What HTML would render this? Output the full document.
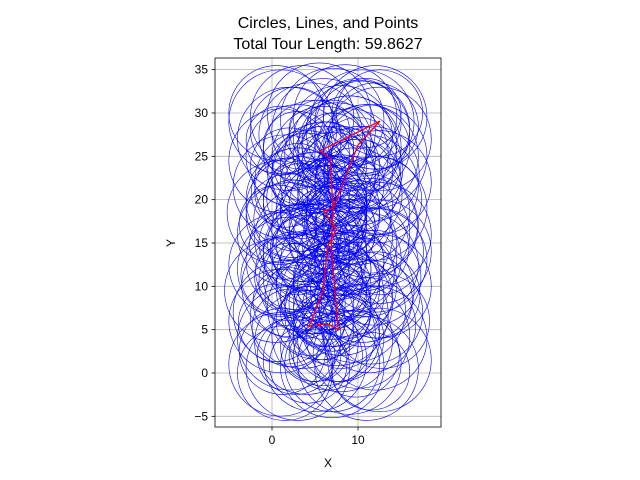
<!DOCTYPE html>
<html><head><meta charset="utf-8"><style>body{margin:0;background:#fff}svg{display:block;font-family:"Liberation Sans","DejaVu Sans",sans-serif}</style></head>
<body>
<svg id="c" width="640" height="480" viewBox="0 0 640 480"></svg>
<script>
const xTicks=[0,10];
const yTicks=[-5,0,5,10,15,20,25,30,35];
const circleX=[1,3,5,7,9,11,12.5,2,4,6,8,10,12,1.5,3.5,5.5,7.5,9.5,11.5,0.5,2.5,4.5,6.5,8.5,10.5,12.5,1,3,5,7,9,11,12,2,4,6,8,10,12.5,0.8,3,5,6.5,8,10,12,1.5,4,6,7,9,11,12.5,1,3,5,6,7.5,9,11,12,2,4.5,6,8,10,12.5,1,3.5,5.5,7,8.5,10.5,12,2,5,6.5,8,11,1,3,6,7,9,12.5,
5,6,7,8,4,9,5.5,6.5,7.5,3,10,6,7,5,8,4.5,6,7,8.5,5,6.5,7.5,3.5,9.5,6,7,5.5,8,4,9,6.5,7,5,8,6,7.5,3,10,5.5,6.5,7,8,4.5,9,6,7,5,8,6.5,7.5,2,11,4,9,6,7,5,8,3,10,6.5,7,
1.2,2.8,4.2,9.8,11.2,12.8,0.6,2.2,10.8,12.2,1.8,3.2,9.2,11.8,0.9,2.6,10.4,12.6,1.4,3.8,8.8,11.4,0.7,2.4,9.6,12.4,1.6,3.4,10.2,11.6,2,4,9,11,1,3,10,12,2.5,10.5,1.5,11.5,3,9,0.5,12.5,2,11,4,8];
const circleY=[1,0.5,1.5,0.8,1.2,0.5,1.5,4,3.5,4.5,3.8,4.2,4,7,6.5,7.5,6.8,7.2,7,9.5,10,10.5,9.8,10.2,9.5,10,12.5,13,13.5,12.8,13.2,12.5,13,16,15.5,16.5,15.8,16.2,16,18.5,19,19.5,18.8,19.2,18.5,19,21.5,22,22.5,21.8,22.2,21.5,22,24.5,25,25.5,24.8,25.2,24.5,25,25,27,27.5,28,27.2,27.8,27,29,29.5,29.8,29.2,29.6,29,29.5,12,14,11,8,17,6,20,23,9,26,14,
3,5,7,9,11,13,15,17,19,21,23,25,27,2,4,6,8,10,12,14,16,18,20,22,24,26,28,5,7,9,11,13,15,17,19,21,23,25,6,8,10,12,14,16,18,20,22,24,26,4,11,13,15,17,19,21,8,18,12,22,
2,1,2.5,2,1,2.2,5.5,6,5.8,5.2,8.5,9,8.2,8.8,11.5,11,11.2,11.8,14.5,14,14.8,14.2,17.5,17,17.2,17.8,20.5,20,20.8,20.2,23.5,23,23.8,23.2,26.5,26,26.8,26.2,29,28.5,28,28.2,0,0.2,15,15,30,30,18,30];
const circleR=[6,6,6,6,6,6,6,6,6,6,6,6,6,6,6,6,6,6,6,6,6,6,6,6,6,6,6,6,6,6,6,6,6,6,6,6,6,6,6,6,6,6,6,6,6,6,6,6,6,6,6,6,6,6,6,6,6,6,6,6,6,6,6,6,6,6,6,6,6,6,6,6,6,6,6,6,6,6,6,6,6,6,6,6,6,
4,3.5,4.5,3,5,4,3.5,4.5,3,5,4,3.5,4.5,3,5,4,3.5,4.5,3,5,4,3.5,4.5,3,5,4,3.5,4.5,3,5,4,3.5,4.5,3,5,4,3.5,4.5,3,5,4,3.5,4.5,3,5,4,3.5,4.5,3,5,4,3.5,4.5,3,5,4,3.5,4.5,3,5,4,
5.5,5,4.5,4.5,5,5.5,5.5,4.5,4.5,5.5,5,4,4,5,5.5,4.5,4.5,5.5,5,4,4,5,5.5,4.5,4.5,5.5,5,4,4,5,5.5,4.5,4.5,5.5,5,4,4,5,5,5,5.5,5.5,4.5,4.5,5.5,5.5,5,5,4,4];
const tourX=[12.56,5.58,6.74,7.1,6.0,7.5,6.5,5.9,4.3,6.4,7.7,6.9,7.1,10.0,12.56];
const tourY=[29.08,25.62,24.8,19.0,18.7,16.6,14.7,9.3,5.4,5.7,5.0,14.5,19.0,26.3,29.08];
const L=215,Rt=441,T=58,B=427;
const xs=v=>272+v*8.6, ys=v=>373-v*8.667;
const svg=document.getElementById('c');const NS='http://www.w3.org/2000/svg';
function mk(t,a,p){const e=document.createElementNS(NS,t);for(const k in a)e.setAttribute(k,a[k]);(p||svg).appendChild(e);return e;}
const defs=mk('defs',{});const cp=mk('clipPath',{id:'cp'},defs);mk('rect',{x:L,y:T,width:Rt-L,height:B-T},cp);
const g=mk('g',{'clip-path':'url(#cp)'});


xTicks.forEach(v=>{const l=mk('line',{x1:xs(v),x2:xs(v),y1:T,y2:B,stroke:'#b0b0b0','stroke-width':0.8},g);

});
yTicks.forEach(v=>{const l=mk('line',{x1:L,x2:Rt,y1:ys(v),y2:ys(v),stroke:'#b0b0b0','stroke-width':0.8},g);

});
circleX.forEach((x,i)=>{const c=mk('circle',{cx:xs(x),cy:ys(circleY[i]),r:(circleR[i]||5)*8.63,fill:'none',stroke:'#0000ff','stroke-width':0.6},g);

});
const pl=mk('polyline',{points:tourX.map((x,i)=>xs(x)+','+ys(tourY[i])).join(' '),fill:'none',stroke:'#ff0000','stroke-width':1.3},g);


const fr=mk('rect',{x:L,y:T,width:Rt-L,height:B-T,fill:'none',stroke:'#000','stroke-width':0.8});


xTicks.forEach(v=>{mk('line',{x1:xs(v),x2:xs(v),y1:B,y2:B+3.5,stroke:'#000','stroke-width':0.8});
const t=mk('text',{x:xs(v),y:B+17,'text-anchor':'middle','font-size':12});t.textContent=v;

});
yTicks.forEach(v=>{mk('line',{x1:L-3.5,x2:L,y1:ys(v),y2:ys(v),stroke:'#000','stroke-width':0.8});
const t=mk('text',{x:L-7,y:ys(v)+4,'text-anchor':'end','font-size':12});t.textContent=v<0?'\u2212'+(-v):v;

});
</script>
<svg style="position:absolute;left:0;top:0" width="640" height="480">
<text x="328" y="467" text-anchor="middle" font-size="12" font-family="Liberation Sans,sans-serif">X</text>
<text x="175" y="243" text-anchor="middle" font-size="12" font-family="Liberation Sans,sans-serif" transform="rotate(-90 175 243)">Y</text>
<text x="328" y="28" text-anchor="middle" font-size="16" font-family="Liberation Sans,sans-serif">Circles, Lines, and Points</text>
<text x="328" y="49" text-anchor="middle" font-size="16" font-family="Liberation Sans,sans-serif">Total Tour Length: 59.8627</text>
</svg>
</body></html>
